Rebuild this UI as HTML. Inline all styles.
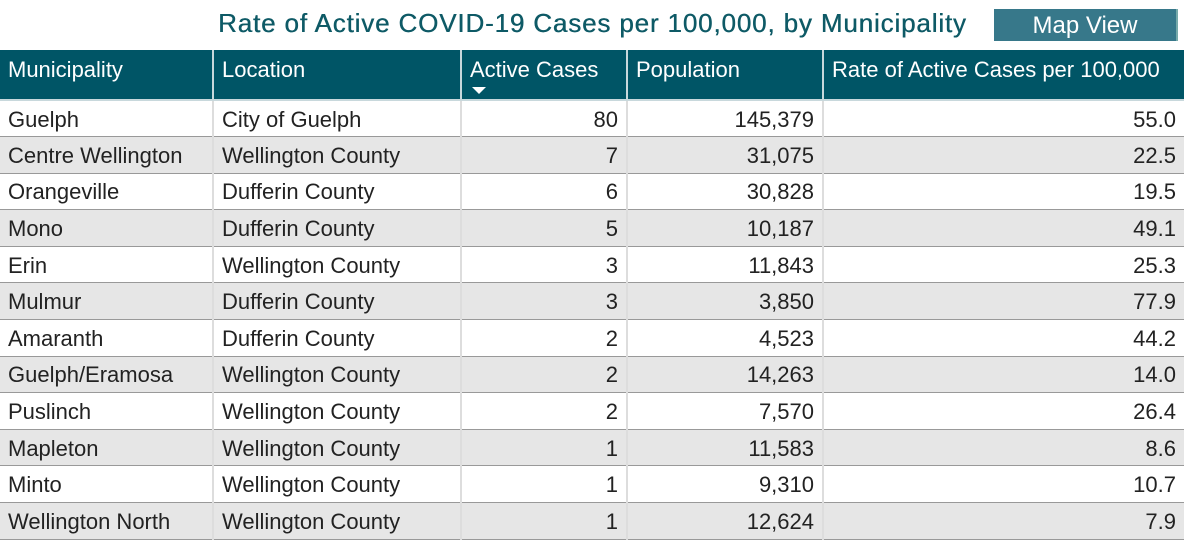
<!DOCTYPE html>
<html><head><meta charset="utf-8"><style>
body{margin:0;width:1184px;height:544px;overflow:hidden;background:#fff;font-family:"Liberation Sans",sans-serif;position:relative}
.title{position:absolute;left:218px;top:8px;width:760px;font-size:26px;color:#0e5a66;white-space:nowrap;letter-spacing:0.85px;text-shadow:0.4px 0 0 #0e5a66}
.btn{position:absolute;left:994px;top:9px;width:184px;height:32px;background:#37788a;color:#fff;font-size:24px;text-align:center;line-height:34px;border-right:2px solid #7aa;box-sizing:border-box}
table{position:absolute;left:0;top:50px;border-collapse:collapse;width:1184px;table-layout:fixed}
th{background:#005566;color:#fff;font-weight:normal;font-size:22px;text-align:left;vertical-align:top;padding:7px 8px 0 8px;height:50px;border-left:2px solid #c8d8dc;border-bottom:2px solid #c8d8dc;box-sizing:border-box;position:relative}
th:first-child{border-left:none}
td{font-size:22px;color:#222;height:36.6px;padding:1px 8px 0 8px;border-left:2px solid #ddd;border-bottom:1px solid #999;box-sizing:border-box;white-space:nowrap;line-height:33px}
td:first-child{border-left:none}
tr:nth-child(odd) td{background:#e6e6e6}
.r{text-align:right}
.arr{position:absolute;left:10px;top:37px;width:0;height:0;border-left:7px solid transparent;border-right:7px solid transparent;border-top:7px solid #fff}
</style></head><body>
<div class="title">Rate of Active COVID-19 Cases per 100,000, by Municipality</div>
<div class="btn">Map View</div>
<table>
<colgroup><col style="width:213px"><col style="width:248px"><col style="width:166px"><col style="width:196px"><col style="width:361px"></colgroup>
<tr><th>Municipality</th><th>Location</th><th>Active Cases<span class="arr"></span></th><th>Population</th><th>Rate of Active Cases per 100,000</th></tr>
<tr><td>Guelph</td><td>City of Guelph</td><td class="r">80</td><td class="r">145,379</td><td class="r">55.0</td></tr>
<tr><td>Centre Wellington</td><td>Wellington County</td><td class="r">7</td><td class="r">31,075</td><td class="r">22.5</td></tr>
<tr><td>Orangeville</td><td>Dufferin County</td><td class="r">6</td><td class="r">30,828</td><td class="r">19.5</td></tr>
<tr><td>Mono</td><td>Dufferin County</td><td class="r">5</td><td class="r">10,187</td><td class="r">49.1</td></tr>
<tr><td>Erin</td><td>Wellington County</td><td class="r">3</td><td class="r">11,843</td><td class="r">25.3</td></tr>
<tr><td>Mulmur</td><td>Dufferin County</td><td class="r">3</td><td class="r">3,850</td><td class="r">77.9</td></tr>
<tr><td>Amaranth</td><td>Dufferin County</td><td class="r">2</td><td class="r">4,523</td><td class="r">44.2</td></tr>
<tr><td>Guelph/Eramosa</td><td>Wellington County</td><td class="r">2</td><td class="r">14,263</td><td class="r">14.0</td></tr>
<tr><td>Puslinch</td><td>Wellington County</td><td class="r">2</td><td class="r">7,570</td><td class="r">26.4</td></tr>
<tr><td>Mapleton</td><td>Wellington County</td><td class="r">1</td><td class="r">11,583</td><td class="r">8.6</td></tr>
<tr><td>Minto</td><td>Wellington County</td><td class="r">1</td><td class="r">9,310</td><td class="r">10.7</td></tr>
<tr><td>Wellington North</td><td>Wellington County</td><td class="r">1</td><td class="r">12,624</td><td class="r">7.9</td></tr>
</table>
</body></html>
